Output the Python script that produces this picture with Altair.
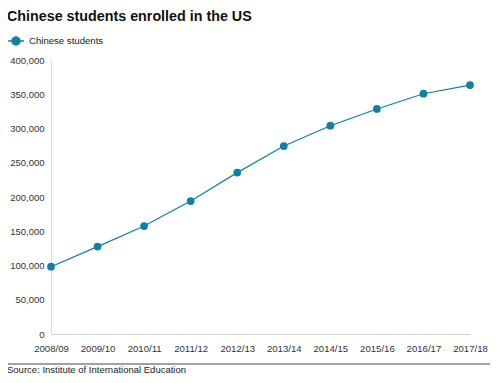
import altair as alt
import pandas as pd

years = ["2008/09", "2009/10", "2010/11", "2011/12", "2012/13",
         "2013/14", "2014/15", "2015/16", "2016/17", "2017/18"]
students = [98235, 127628, 157558, 194029, 235597,
            274439, 304040, 328547, 350755, 363341]
series = ["Chinese students"] * len(years)
y_ticks = [0, 50000, 100000, 150000, 200000, 250000, 300000, 350000, 400000]
source_text = ["Source: Institute of International Education"]

df = pd.DataFrame({"year": years, "students": students, "series": series})
src = pd.DataFrame({"text": source_text})

FONT = "Liberation Sans"
TEAL = "#1380A1"

x = alt.X("year:N", sort=years, title=None,
          scale=alt.Scale(type="point", padding=0),
          axis=alt.Axis(labelAngle=0, ticks=False, domainColor="#d4d4d4",
                        labelPadding=9, labelFontSize=9.6, labelColor="#333333",
                        labelFont=FONT, grid=False))
y = alt.Y("students:Q", title=None,
          scale=alt.Scale(domain=[0, 400000]),
          axis=alt.Axis(values=y_ticks, format=",d", ticks=False, grid=False,
                        domainColor="#dcdcdc", labelPadding=7, labelFontSize=9.5,
                        labelColor="#333333", labelFont=FONT))
color = alt.Color("series:N", title=None,
                  scale=alt.Scale(range=[TEAL]),
                  legend=alt.Legend(orient="none", legendX=-44, legendY=-28,
                                    symbolType="M-1,0H1M-0.5,0A0.5,0.5,0,1,1,0.5,0A0.5,0.5,0,1,1,-0.5,0Z",
                                    symbolSize=256, symbolStrokeWidth=1.5,
                                    symbolFillColor=TEAL, symbolStrokeColor=TEAL,
                                    labelFont=FONT, labelFontSize=9.6,
                                    labelColor="#222222", labelOffset=4))

line = alt.Chart(df).mark_line(strokeWidth=1.2, color=TEAL).encode(x=x, y=y, color=color)
pts = alt.Chart(df).mark_circle(size=60, opacity=1, color=TEAL).encode(x=x, y=y, color=color)

rule = alt.Chart(src).mark_rule(color="#444444", strokeWidth=1).encode(
    x=alt.value(-44), x2=alt.value(439), y=alt.value(304))
source = alt.Chart(src).mark_text(align="left", baseline="alphabetic", font=FONT,
                                  fontSize=9.5, color="#222222").encode(
    x=alt.value(-44), y=alt.value(313), text="text:N")

chart = alt.layer(line, pts, rule, source).properties(
    width=419, height=274,
    padding={"left": 43, "top": 52, "right": 21, "bottom": 41},
    autosize=alt.AutoSizeParams(type="none"),
    title=alt.TitleParams("Chinese students enrolled in the US", anchor="start",
                          frame="group", dx=-44, font=FONT, fontSize=14.3,
                          fontWeight="bold", color="#111111", offset=8),
).configure_view(stroke=None)

chart.save("out.html", embed_options={"renderer": "svg", "actions": False})
